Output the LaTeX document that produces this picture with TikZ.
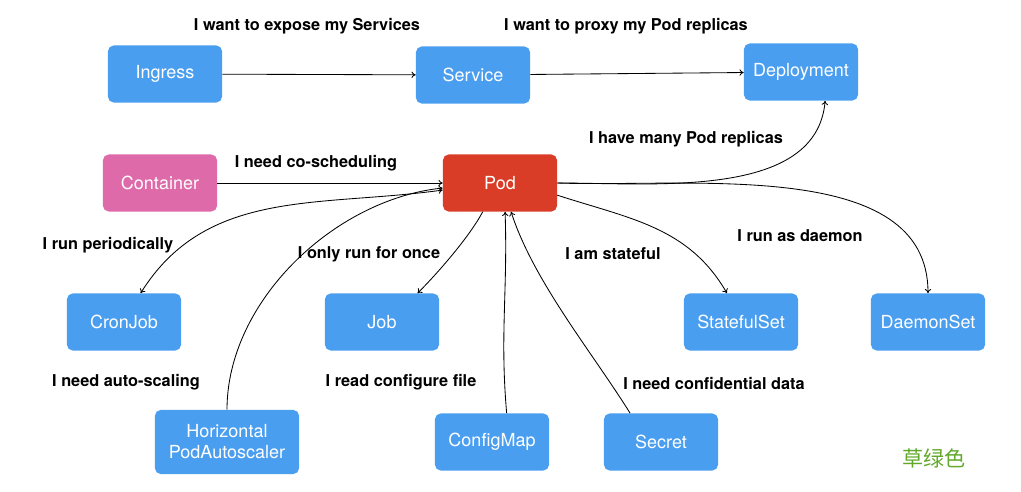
\documentclass[tikz,border=0pt]{standalone}
\usepackage{fontspec}
\setmainfont{TeX Gyre Heros}
\newfontfamily\cjk{Noto Sans CJK SC}
\usepackage{tikz}
\usetikzlibrary{positioning,calc,arrows.meta}

\definecolor{kblue}{HTML}{4A9EF0}
\definecolor{kred}{HTML}{D93D28}
\definecolor{kpink}{HTML}{DE6AAA}
\definecolor{kgreen}{HTML}{62A82A}

\tikzset{
  obj/.style={rounded corners=4pt,fill=kblue,text=white,align=center,
    minimum width=2.85cm,minimum height=1.425cm,inner sep=0pt,
    font=\fontsize{12.8}{15}\selectfont},
  why/.style={font=\bfseries\fontsize{11.6}{14}\selectfont,inner sep=0pt},
  link/.style={line width=0.6pt,-{To[length=3pt,width=4.5pt]}},
  twolink/.style={line width=0.6pt,{To[length=3pt,width=4.5pt]}-{To[length=3pt,width=4.5pt]}}
}

\begin{document}
\begin{tikzpicture}[x=0.025cm,y=-0.025cm]

\useasboundingbox (0,0) rectangle (1021,492);

% the objects
\node[obj] (ingress) at (165,74) {Ingress};
\node[obj] (service) at (473,75) {Service};
\node[obj] (deploy) at (801,72) {Deployment};
\node[obj,fill=kpink] (container) at (160,183) {Container};
\node[obj,fill=kred] (pod) at (500,183) {Pod};
\node[obj] (cronjob) at (124,322) {CronJob};
\node[obj] (job) at (382,322) {Job};
\node[obj] (stateful) at (741,322) {StatefulSet};
\node[obj] (daemon) at (928,322) {DaemonSet};
\node[obj,minimum width=3.6cm,minimum height=1.6cm] (hpa) at (227,442) {Horizontal\\PodAutoscaler};
\node[obj] (configmap) at (492,442) {ConfigMap};
\node[obj] (secret) at (661,442) {Secret};

% the reasons
\node[why] (wExpose) at (307,26) {I want to expose my Services};
\node[why] (wProxy) at (626,26) {I want to proxy my Pod replicas};
\node[why] (wReplicas) at (686,139) {I have many Pod replicas};
\node[why] (wCosched) at (316,163) {I need co-scheduling};
\node[why] (wPeriodic) at (108,245) {I run periodically};
\node[why] (wOnce) at (369,254) {I only run for once};
\node[why] (wStateful) at (613,254) {I am stateful};
\node[why] (wDaemon) at (800,236) {I run as daemon};
\node[why] (wScaling) at (126,382) {I need auto-scaling};
\node[why] (wConfig) at (401,382) {I read configure file};
\node[why] (wSecret) at (714,383) {I need confidential data};

\node[text=kgreen,font=\cjk\fontsize{15}{18}\selectfont] (tag) at (934,458) {草绿色};

% straight links
\draw[link] (ingress) -- (service);
\draw[link] (service) -- (deploy);
\draw[link] (container) -- (pod);

% curved links out of the Pod
\draw[link] (pod.east) to[out=0,in=-95,looseness=0.9] (deploy.-50);
\draw[link] (pod.east) to[out=-2,in=90,looseness=0.9] (daemon.north);
\draw[link] (pod.-12) to[out=-18,in=120] (stateful.116);
\draw[link] (pod.-121) to[out=-118,in=45,looseness=0.7] (job.39);
\draw[twolink] (pod.187) to[out=188,in=58] (cronjob.60);

% curved links into the Pod
\draw[link] (hpa.north) to[out=90,in=186,looseness=0.9] (pod.185);
\draw[link] (configmap.63) to[out=95,in=-88] (pod.-80);
\draw[link] (secret.137) to[out=122,in=-72,looseness=0.8] (pod.-69);

\end{tikzpicture}
\end{document}
